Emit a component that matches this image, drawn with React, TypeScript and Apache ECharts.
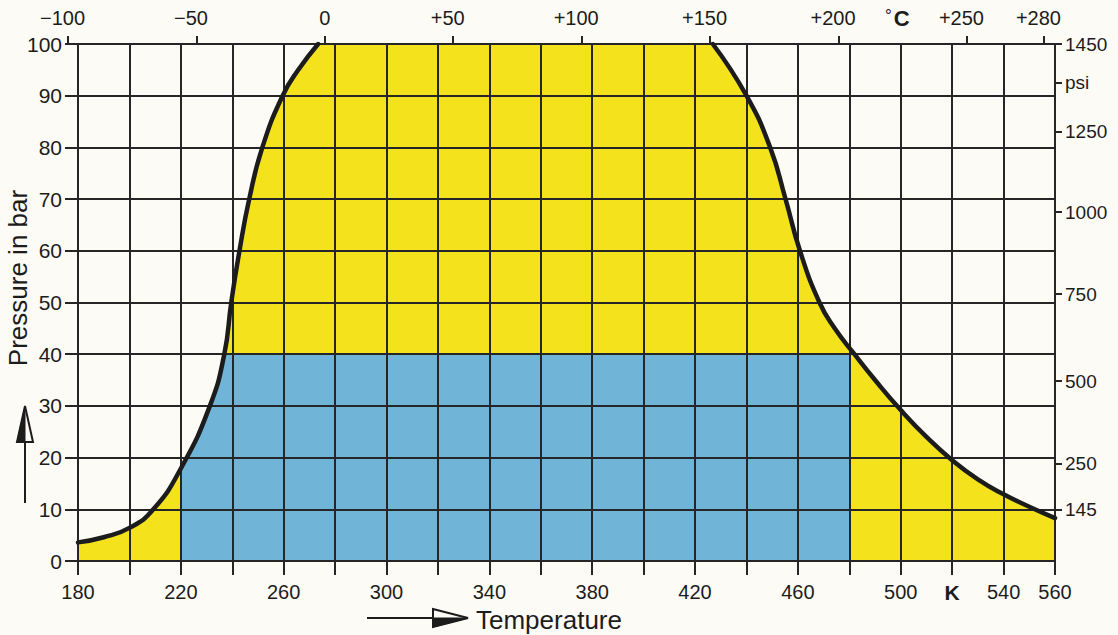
import React, { useEffect, useRef } from 'react';
import * as echarts from 'echarts';

// ---- data ----
const kelvinLabelValues = [180, 220, 260, 300, 340, 380, 420, 460, 500, 520, 540, 560];
const kelvinUnitAt = 520; // the "K" unit label sits on this tick
const celsiusTicks = [-100, -50, 0, 50, 100, 150, 200, 250, 280];
const psiLabels = ['1450', 'psi', '1250', '1000', '750', '500', '250', '145'];
const psiAtBar = [100, 92.5, 83, 67.5, 51.6, 34.8, 18.8, 9.9];

const leftCurveK = [180, 190, 200, 209.3, 220, 231.3, 236.9, 239.6, 242.8, 246.6, 251.7, 259.6, 265.7, 273.4];
const leftCurveBar = [3.6, 4.6, 6.4, 10, 17.9, 30, 40, 50, 60, 70, 80, 90, 95, 100];
const rightCurveK = [426.9, 440, 449.2, 455.2, 460.8, 468.4, 474.3, 482, 490, 500, 510, 520, 530, 540, 550, 560];
const rightCurveBar = [100, 90, 80, 70, 60, 50, 45, 40, 35, 29.2, 24, 19.5, 15.8, 12.9, 10.5, 8.3];

const yellowSpanK = [180, 560];
const yellowTopBar = 100;
const blueSpanK = [220, 480];
const blueTopBar = 40;

// ---- styles ----
const FONT = '"Liberation Sans", Arial, Helvetica, sans-serif';
const INK = '#1c1c1c';
const GRIDC = '#262626';
const BG = '#fcfbf5';
const YELLOW = '#f4e31c';
const BLUE = '#70b4d7';

const zip = (a: number[], b: number[]) => a.map((v, i) => [v, b[i]]);

export default function App() {
  const ref = useRef<HTMLDivElement>(null);

  useEffect(() => {
    if (!ref.current) return;
    const chart = echarts.init(ref.current, undefined, { renderer: 'svg' });

    const leftCurve = zip(leftCurveK, leftCurveBar);
    const rightCurve = zip(rightCurveK, rightCurveBar);
    const SMOOTH = 0.5;

    const axisLineStyle = { color: GRIDC, width: 2 };

    const option: any = {
      animation: false,
      backgroundColor: BG,
      textStyle: { fontFamily: FONT },
      grid: [
        { left: 78, right: 63, top: 44, bottom: 74 },
        { left: 68, right: 63, top: 44, bottom: 74 },
      ],
      xAxis: [
        {
          type: 'value', gridIndex: 0, min: 180, max: 560, interval: 20, position: 'bottom', z: 3,
          axisLine: { show: true, onZero: false, lineStyle: axisLineStyle },
          axisTick: { show: true, length: 14, lineStyle: axisLineStyle },
          axisLabel: {
            customValues: kelvinLabelValues, margin: 21, fontSize: 20, color: INK, fontFamily: FONT,
            formatter: (v: number) => (v === kelvinUnitAt ? '{k|K}' : String(v)),
            rich: { k: { fontWeight: 'bold', fontSize: 21, color: INK, fontFamily: FONT } },
          },
          splitLine: { show: true, lineStyle: { color: GRIDC, width: 2 } },
        },
        {
          type: 'value', gridIndex: 1, min: -100, max: 284.3, position: 'top', z: 3,
          axisLine: { show: true, onZero: false, lineStyle: axisLineStyle },
          axisTick: { show: true, customValues: celsiusTicks, length: 8, lineStyle: axisLineStyle },
          axisLabel: {
            customValues: celsiusTicks, margin: 16, fontSize: 20, color: INK, fontFamily: FONT,
            formatter: (v: number) => {
              if (v === 0) return '0';
              const s = (v > 0 ? '+' : '\u2212') + Math.abs(v);
              return '{n|' + s + '}';
            },
            rich: { n: { fontSize: 20, color: INK, fontFamily: FONT, padding: [0, 11, 0, 0] } },
          },
          splitLine: { show: false },
        },
      ],
      yAxis: [
        {
          type: 'value', gridIndex: 0, min: 0, max: 100, interval: 10, position: 'left', z: 3,
          axisLine: { show: true, onZero: false, lineStyle: axisLineStyle },
          axisTick: { show: true, length: 13, lineStyle: axisLineStyle },
          axisLabel: { margin: 16, fontSize: 21, color: INK, fontFamily: FONT },
          splitLine: { show: true, lineStyle: { color: GRIDC, width: 2 } },
        },
        {
          type: 'value', gridIndex: 0, min: 0, max: 100, position: 'right', z: 3,
          axisLine: { show: true, onZero: false, lineStyle: axisLineStyle },
          axisTick: { show: true, customValues: psiAtBar, length: 7, lineStyle: axisLineStyle },
          axisLabel: {
            customValues: psiAtBar, margin: 10, fontSize: 19, color: INK, fontFamily: FONT,
            formatter: (v: number) => {
              let best = 0;
              psiAtBar.forEach((p, i) => { if (Math.abs(p - v) < Math.abs(psiAtBar[best] - v)) best = i; });
              return psiLabels[best];
            },
          },
          splitLine: { show: false },
        },
        { type: 'value', gridIndex: 1, min: 0, max: 100, show: false },
      ],
      series: [
        {
          type: 'line', xAxisIndex: 0, yAxisIndex: 0, silent: true, z: 1,
          data: [[yellowSpanK[0], yellowTopBar], [yellowSpanK[1], yellowTopBar]],
          symbol: 'none', lineStyle: { width: 0 },
          areaStyle: { color: YELLOW, opacity: 1, origin: 'start' },
        },
        {
          type: 'line', xAxisIndex: 0, yAxisIndex: 0, silent: true, z: 1,
          data: [[blueSpanK[0], blueTopBar], [blueSpanK[1], blueTopBar]],
          symbol: 'none', lineStyle: { width: 0 },
          areaStyle: { color: BLUE, opacity: 1, origin: 'start' },
        },
        {
          type: 'line', xAxisIndex: 0, yAxisIndex: 0, silent: true, z: 1,
          data: leftCurve, smooth: SMOOTH, symbol: 'none', lineStyle: { width: 0 },
          areaStyle: { color: BG, opacity: 1, origin: 'end' },
        },
        {
          type: 'line', xAxisIndex: 0, yAxisIndex: 0, silent: true, z: 1,
          data: rightCurve, smooth: SMOOTH, symbol: 'none', lineStyle: { width: 0 },
          areaStyle: { color: BG, opacity: 1, origin: 'end' },
        },
        {
          type: 'line', xAxisIndex: 0, yAxisIndex: 0, silent: true, z: 4,
          data: leftCurve, smooth: SMOOTH, symbol: 'none',
          lineStyle: { width: 4.5, color: INK, cap: 'round' },
        },
        {
          type: 'line', xAxisIndex: 0, yAxisIndex: 0, silent: true, z: 4,
          data: rightCurve, smooth: SMOOTH, symbol: 'none',
          lineStyle: { width: 4.5, color: INK, cap: 'round' },
        },
      ],
      graphic: [
        {
          type: 'text', x: 18, y: 278, rotation: Math.PI / 2, z: 10,
          style: {
            text: 'Pressure in bar', fontSize: 26, fontFamily: FONT, fill: INK,
            align: 'center', verticalAlign: 'middle', textAlign: 'center', textVerticalAlign: 'middle',
          },
        },
        {
          type: 'text', x: 476, y: 620, z: 10,
          style: {
            text: 'Temperature', fontSize: 26, fontFamily: FONT, fill: INK,
            align: 'left', verticalAlign: 'middle', textAlign: 'left', textVerticalAlign: 'middle',
          },
        },
        {
          type: 'text', x: 885, y: 18, z: 10,
          style: {
            text: '{d|°}{c|C}', fontFamily: FONT, fill: INK,
            align: 'left', verticalAlign: 'middle', textAlign: 'left', textVerticalAlign: 'middle',
            rich: {
              d: { fontSize: 17, fontFamily: FONT, fill: INK, verticalAlign: 'top', padding: [0, 2, 6, 0] },
              c: { fontSize: 22, fontWeight: 'bold', fontFamily: FONT, fill: INK },
            },
          },
        },
        // temperature arrow
        { type: 'line', z: 10, shape: { x1: 367, y1: 618, x2: 436, y2: 618 }, style: { stroke: INK, lineWidth: 2 } },
        { type: 'polygon', z: 10, shape: { points: [[433, 609], [468, 618], [433, 627]] }, style: { fill: BG, stroke: INK, lineWidth: 2 } },
        { type: 'polygon', z: 11, shape: { points: [[433, 618], [468, 618], [433, 627]] }, style: { fill: INK, stroke: INK, lineWidth: 1 } },
        // pressure arrow
        { type: 'line', z: 10, shape: { x1: 25, y1: 441, x2: 25, y2: 503 }, style: { stroke: INK, lineWidth: 2 } },
        { type: 'polygon', z: 10, shape: { points: [[17, 442], [25, 406], [33, 442]] }, style: { fill: BG, stroke: INK, lineWidth: 2 } },
        { type: 'polygon', z: 11, shape: { points: [[17, 442], [25, 406], [25, 442]] }, style: { fill: INK, stroke: INK, lineWidth: 1 } },
      ],
    };

    chart.setOption(option);
    return () => chart.dispose();
  }, []);

  return (
    <div
      ref={ref}
      style={{ position: 'absolute', left: 0, top: 0, width: 1118, height: 635, background: BG }}
    />
  );
}
